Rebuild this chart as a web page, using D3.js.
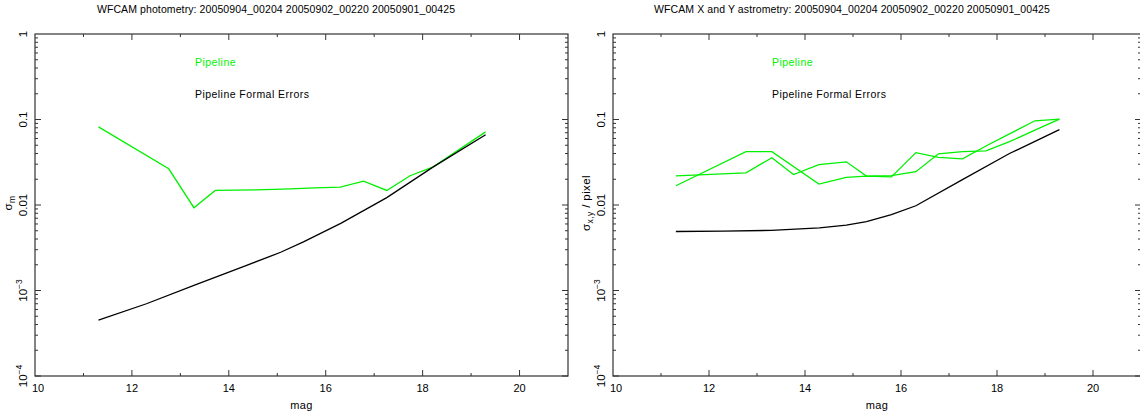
<!DOCTYPE html>
<html>
<head>
<meta charset="utf-8">
<script src="https://cdn.jsdelivr.net/npm/d3@7"></script>
<style>
  body { margin: 0; background: #fff; }
  svg text { font-family: "Liberation Sans", Arial, sans-serif; }
</style>
</head>
<body>
<div id="chart"></div>
<script>
// photometry panel
const photPipeMag = [11.31, 12.76, 13.28, 13.72, 14.75, 15.27, 15.77, 16.3, 16.78, 17.26, 17.74, 18.22, 19.3];
const photPipe    = [0.082, 0.0265, 0.0093, 0.0148, 0.0151, 0.0154, 0.0159, 0.0162, 0.019, 0.0148, 0.022, 0.0279, 0.0717];
const photFormalMag = [11.31, 12.3, 13.28, 14.3, 15.07, 15.54, 16.31, 17.26, 18.22, 19.3];
const photFormal    = [4.5e-4, 7.0e-4, 1.15e-3, 1.9e-3, 2.8e-3, 3.7e-3, 6.1e-3, 0.0122, 0.0279, 0.0664];

// astrometry panel
const astroXMag = [11.31, 12.77, 13.31, 14.29, 14.86, 15.28, 15.8, 16.31, 16.78, 17.28, 17.77, 18.26, 18.79, 19.3];
const astroX    = [0.0168, 0.042, 0.042, 0.0176, 0.021, 0.0218, 0.0213, 0.041, 0.036, 0.0347, 0.049, 0.068, 0.0966, 0.101];
const astroYMag = [11.31, 12.77, 13.31, 13.76, 14.29, 14.86, 15.28, 15.8, 16.31, 16.78, 17.28, 17.77, 18.26, 18.79, 19.3];
const astroY    = [0.0219, 0.0238, 0.0357, 0.0227, 0.0297, 0.032, 0.0218, 0.022, 0.0245, 0.0397, 0.042, 0.043, 0.055, 0.075, 0.101];
const astroFormalMag = [11.31, 12.3, 13.3, 14.3, 14.86, 15.28, 15.8, 16.31, 17.28, 18.26, 19.3];
const astroFormal    = [4.9e-3, 4.95e-3, 5.05e-3, 5.4e-3, 5.8e-3, 6.4e-3, 7.7e-3, 9.8e-3, 0.0198, 0.040, 0.076];

const xTicks = [10, 12, 14, 16, 18, 20];
const yTicks = [1e-4, 1e-3, 0.01, 0.1, 1];
const yTickLabels = [["10", "\u22124"], ["10", "\u22123"], ["0.01"], ["0.1"], ["1"]];

const green = "#00f000";
const axisColor = "#333";

const width = 1140, height = 416;
const svg = d3.select("#chart").append("svg")
    .attr("width", width)
    .attr("height", height);

function zip(ms, vs) { return ms.map((m, i) => [m, vs[i]]); }

function drawPanel(opt) {
    let x = d3.scaleLinear().domain([10, 21]).range([opt.left, opt.right]);
    let y = d3.scaleLog().domain([1e-4, 1]).range([376, 34]);
    let g = svg.append("g");

    // frame
    g.append("rect")
        .attr("x", x(10)).attr("y", y(1))
        .attr("width", x(21) - x(10)).attr("height", y(1e-4) - y(1))
        .attr("fill", "none").attr("stroke", axisColor).attr("stroke-width", 1.2);

    // x ticks, bottom and top, inward
    for (let m = 11; m <= 20; m++) {
        let len = (m % 2 == 0) ? 6 : 3;
        g.append("line").attr("x1", x(m)).attr("x2", x(m))
            .attr("y1", y(1e-4)).attr("y2", y(1e-4) - len)
            .attr("stroke", axisColor);
        g.append("line").attr("x1", x(m)).attr("x2", x(m))
            .attr("y1", y(1)).attr("y2", y(1) + len)
            .attr("stroke", axisColor);
    }

    // y ticks, left and right, inward
    for (let d = -4; d < 0; d++) {
        for (let k = 1; k <= 9; k++) {
            let v = k * Math.pow(10, d);
            let len = (k == 1) ? 6 : 3;
            g.append("line").attr("x1", x(10)).attr("x2", x(10) + len)
                .attr("y1", y(v)).attr("y2", y(v)).attr("stroke", axisColor);
            g.append("line").attr("x1", x(21)).attr("x2", x(21) - len)
                .attr("y1", y(v)).attr("y2", y(v)).attr("stroke", axisColor);
        }
    }

    // x tick labels
    g.selectAll(".xl").data(xTicks).enter().append("text")
        .attr("x", d => x(d) + (d == 10 ? 3 : 0))
        .attr("y", 392)
        .attr("text-anchor", "middle")
        .attr("font-size", "11px")
        .attr("fill", "#000")
        .text(d => d);

    // y tick labels (rotated)
    yTicks.forEach((t, i) => {
        let lab = yTickLabels[i];
        let txt = g.append("text")
            .attr("transform", "translate(" + (x(10) - 8) + "," + y(t) + ") rotate(-90)")
            .attr("text-anchor", "middle")
            .attr("font-size", "11.5px")
            .attr("fill", "#000");
        txt.append("tspan").text(lab[0]);
        if (lab.length > 1) {
            txt.append("tspan").attr("dy", -5).attr("font-size", "8.5px").text(lab[1]);
        }
    });

    // y axis title
    let yt = g.append("text")
        .attr("transform", "translate(" + (x(10) - 23) + "," + opt.yTitleY + ") rotate(-90)")
        .attr("text-anchor", "middle")
        .attr("font-size", "11.5px")
        .attr("letter-spacing", "0.4px")
        .attr("fill", "#000");
    yt.append("tspan").text("\u03c3");
    yt.append("tspan").attr("dy", 3).attr("font-size", "8.5px").text(opt.ySub);
    if (opt.yRest) {
        yt.append("tspan").attr("dy", -3).text(opt.yRest);
    }

    // x axis title
    g.append("text")
        .attr("x", (x(10) + x(21)) / 2).attr("y", 409)
        .attr("text-anchor", "middle")
        .attr("font-size", "11px")
        .attr("letter-spacing", "0.4px")
        .attr("fill", "#000")
        .text("mag");

    // title
    g.append("text")
        .attr("x", opt.titleX).attr("y", 13)
        .attr("text-anchor", "middle")
        .attr("font-size", "10.5px")
        .attr("letter-spacing", "0.1px")
        .attr("fill", "#000")
        .text(opt.title);

    // legend
    g.append("text").attr("x", opt.legendX).attr("y", 66)
        .attr("font-size", "10.5px").attr("letter-spacing", "0.45px")
        .attr("fill", green).text("Pipeline");
    g.append("text").attr("x", opt.legendX).attr("y", 98)
        .attr("font-size", "10.5px").attr("letter-spacing", "0.45px")
        .attr("fill", "#000").text("Pipeline Formal Errors");

    let line = d3.line().x(d => x(d[0])).y(d => y(d[1]));
    opt.series.forEach(s => {
        g.append("path")
            .datum(s.data)
            .attr("d", line)
            .attr("fill", "none")
            .attr("stroke", s.color)
            .attr("stroke-width", 1.3);
    });
}

drawPanel({
    left: 35, right: 568,
    title: "WFCAM photometry: 20050904_00204 20050902_00220 20050901_00425",
    titleX: 276,
    legendX: 195,
    ySub: "m",
    yTitleY: 203,
    series: [
        {data: zip(photPipeMag, photPipe), color: green},
        {data: zip(photFormalMag, photFormal), color: "#000"}
    ]
});

drawPanel({
    left: 613, right: 1141,
    title: "WFCAM X and Y astrometry: 20050904_00204 20050902_00220 20050901_00425",
    titleX: 852,
    legendX: 772,
    ySub: "x,y",
    yRest: " / pixel",
    yTitleY: 203,
    series: [
        {data: zip(astroXMag, astroX), color: green},
        {data: zip(astroYMag, astroY), color: green},
        {data: zip(astroFormalMag, astroFormal), color: "#000"}
    ]
});
</script>
</body>
</html>
